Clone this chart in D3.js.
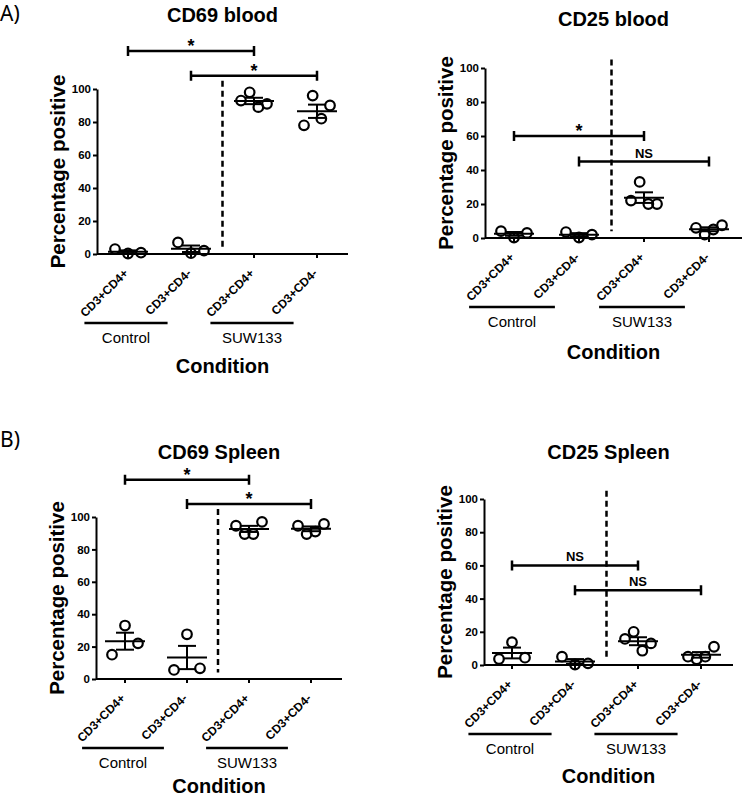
<!DOCTYPE html>
<html>
<head>
<meta charset="utf-8">
<script src="https://cdn.jsdelivr.net/npm/d3@7"></script>
<style>
  body { margin: 0; background: #fff; }
  svg { display: block; }
</style>
</head>
<body>
<svg width="742" height="797"></svg>
<script>
// categorias y etiquetas
const catIds = ["ctlCD4p", "ctlCD4m", "suwCD4p", "suwCD4m"]
const catLabels = ["CD3+CD4+", "CD3+CD4-", "CD3+CD4+", "CD3+CD4-"]
const groupNames = ["Control", "SUW133"]
const yTicks = [0, 20, 40, 60, 80, 100]

// valores individuales (porcentaje positivo), en orden de izquierda a derecha
const cd69Blood = [[3, 0.3, 0.8], [7, 0.5, 2], [93, 98, 89, 91], [78, 96, 82, 90]]
const cd25Blood = [[4, 0.3, 3], [3.5, 0.3, 2], [22, 33, 20, 20], [6, 2, 5, 7.5]]
const cd69Spleen = [[15, 33, 22], [5.6, 27.6, 6.6], [94.6, 89.5, 89.5, 97], [94.6, 89.5, 91, 95.7]]
const cd25Spleen = [[3.6, 13.7, 4.4], [5, 0.3, 1], [15.7, 20, 8.6, 13], [5, 3.4, 5, 11]]

// comparaciones
const bracketPairs = [[0, 2], [1, 3]]
const levels69 = [123, 108]
const levels25 = [60, 45]
const sigCd69Blood = ["*", "*"]
const sigCd25Blood = ["*", "NS"]
const sigCd69Spleen = ["*", "*"]
const sigCd25Spleen = ["NS", "NS"]

const font = "'Liberation Sans', Arial, sans-serif"
const svg = d3.select("svg")

const panels = [
  {title: "CD69 blood", tag: "A)", values: cd69Blood, sig: sigCd69Blood, levels: levels69,
   left: 97, right: 348, y0: 254, y100: 89, cat1: 128, step: 63, titleY: 22, tagY: 21, condY: 373},
  {title: "CD25 blood", tag: null, values: cd25Blood, sig: sigCd25Blood, levels: levels25,
   left: 485, right: 742, y0: 238, y100: 68, cat1: 514, step: 65, titleY: 26, condY: 359},
  {title: "CD69 Spleen", tag: "B)", values: cd69Spleen, sig: sigCd69Spleen, levels: levels69,
   left: 96, right: 342, y0: 679, y100: 517, cat1: 125, step: 62, titleY: 459, tagY: 447, condY: 793},
  {title: "CD25 Spleen", tag: null, values: cd25Spleen, sig: sigCd25Spleen, levels: levels25,
   left: 484, right: 733, y0: 665, y100: 499, cat1: 512, step: 63, titleY: 459, condY: 783}
]

panels.forEach(p => {
  const x = d3.scalePoint(catIds, [p.cat1, p.cat1 + 3 * p.step])
  const y = d3.scaleLinear([0, 100], [p.y0, p.y100])
  const g = svg.append("g")
  const cx = (p.left + p.right) / 2

  if (p.tag) {
    svg.append("text").attr("x", 0).attr("y", p.tagY)
      .attr("font-family", "'Noto Sans', sans-serif").attr("font-size", "21px")
      .text(p.tag)
  }

  // titulo
  g.append("text").attr("x", cx).attr("y", p.titleY)
    .attr("text-anchor", "middle").attr("font-family", font)
    .attr("font-size", "20px").attr("font-weight", "bold")
    .text(p.title)

  // eje y
  const yAxis = g.append("g")
    .attr("transform", `translate(${p.left},0)`)
    .call(d3.axisLeft(y).tickValues(yTicks).tickSize(4).tickPadding(2).tickSizeOuter(0))
  yAxis.select(".domain").attr("stroke-width", 2)
  yAxis.selectAll(".tick line").attr("stroke-width", 2)
  yAxis.selectAll(".tick text").attr("font-family", font)
    .attr("font-size", "11.5px").attr("font-weight", "bold")

  g.append("text")
    .attr("transform", `translate(${p.left - 32},${(p.y0 + p.y100) / 2}) rotate(-90)`)
    .attr("text-anchor", "middle").attr("font-family", font)
    .attr("font-size", "20.5px").attr("font-weight", "bold")
    .text("Percentage positive")

  // eje x
  g.append("line")
    .attr("x1", p.left).attr("x2", p.right)
    .attr("y1", y(0)).attr("y2", y(0))
    .attr("stroke", "#000").attr("stroke-width", 2)
  g.selectAll(".xtick").data(catIds).join("line")
    .attr("x1", d => x(d)).attr("x2", d => x(d))
    .attr("y1", y(0)).attr("y2", y(0) + 4)
    .attr("stroke", "#000").attr("stroke-width", 2)
  g.selectAll(".xlab").data(catIds).join("text")
    .attr("transform", d => `translate(${x(d) + 1},${y(0) + 20}) rotate(-45)`)
    .attr("text-anchor", "end").attr("font-family", font)
    .attr("font-size", "12px").attr("font-weight", "bold")
    .text((d, i) => catLabels[i])

  // grupos
  groupNames.forEach((name, gi) => {
    const gx = x(catIds[gi * 2]) - 2
    const half = p.step * 0.66
    g.append("line")
      .attr("x1", gx - half).attr("x2", gx + half)
      .attr("y1", y(0) + 69).attr("y2", y(0) + 69)
      .attr("stroke", "#000").attr("stroke-width", 2.5)
    g.append("text").attr("x", gx).attr("y", y(0) + 89)
      .attr("text-anchor", "middle").attr("font-family", font)
      .attr("font-size", "15px").text(name)
  })

  g.append("text").attr("x", cx).attr("y", p.condY)
    .attr("text-anchor", "middle").attr("font-family", font)
    .attr("font-size", "20px").attr("font-weight", "bold")
    .text("Condition")

  // linea divisoria
  const divX = (x(catIds[1]) + x(catIds[2])) / 2
  g.append("line")
    .attr("x1", divX).attr("x2", divX)
    .attr("y1", y(105)).attr("y2", y(4))
    .attr("stroke", "#000").attr("stroke-width", 2.5)
    .attr("stroke-dasharray", "6,4")

  // puntos, media y SEM
  p.values.forEach((vals, ci) => {
    const c = x(catIds[ci])
    const n = vals.length
    const spread = 26 / (n - 1)
    g.selectAll(null).data(vals).join("circle")
      .attr("cx", (d, i) => c + (i - (n - 1) / 2) * spread)
      .attr("cy", d => y(d))
      .attr("r", 4.8)
      .attr("fill", "none").attr("stroke", "#000").attr("stroke-width", 2.2)
    const m = d3.mean(vals)
    const sem = d3.deviation(vals) / Math.sqrt(n)
    g.append("line").attr("x1", c - 20).attr("x2", c + 20)
      .attr("y1", y(m)).attr("y2", y(m))
      .attr("stroke", "#000").attr("stroke-width", 2)
    g.append("line").attr("x1", c).attr("x2", c)
      .attr("y1", y(m - sem)).attr("y2", y(m + sem))
      .attr("stroke", "#000").attr("stroke-width", 2)
    ;[m - sem, m + sem].forEach(v => {
      g.append("line").attr("x1", c - 9).attr("x2", c + 9)
        .attr("y1", y(v)).attr("y2", y(v))
        .attr("stroke", "#000").attr("stroke-width", 2)
    })
  })

  // corchetes de significancia
  bracketPairs.forEach(([a, b], k) => {
    const x1 = x(catIds[a]), x2 = x(catIds[b]), by = y(p.levels[k])
    g.append("path")
      .attr("d", `M${x1},${by - 5}V${by + 5}M${x1},${by}H${x2}M${x2},${by - 5}V${by + 5}`)
      .attr("fill", "none").attr("stroke", "#000").attr("stroke-width", 2.5)
    const isStar = p.sig[k] === "*"
    g.append("text").attr("x", (x1 + x2) / 2).attr("y", isStar ? by + 1 : by - 4)
      .attr("text-anchor", "middle").attr("font-family", font)
      .attr("font-size", isStar ? "18px" : "13px").attr("font-weight", "bold")
      .text(p.sig[k])
  })
})
</script>
</body>
</html>
